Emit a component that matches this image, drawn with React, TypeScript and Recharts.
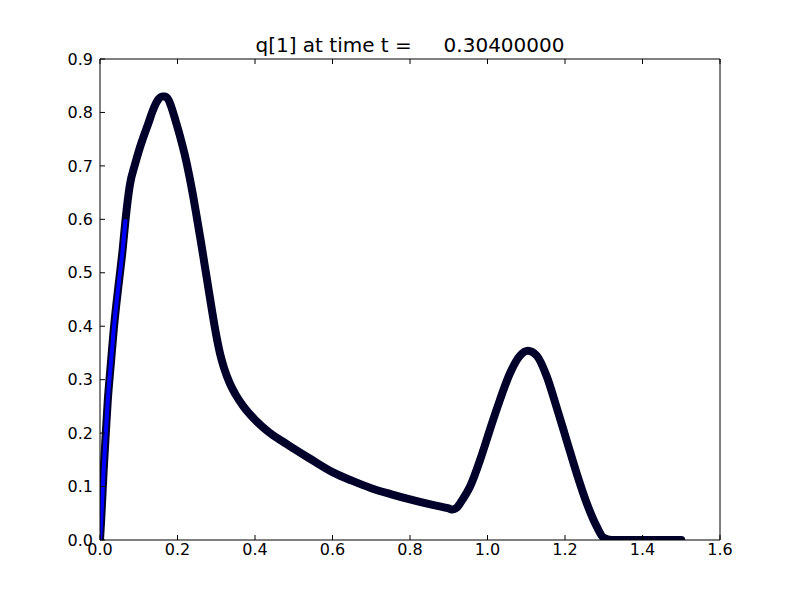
import React from 'react';
import { ComposedChart, Line, XAxis, YAxis } from 'recharts';

const xValues = [
  0.0, 0.003, 0.0095, 0.015, 0.02, 0.028, 0.035, 0.042, 0.05, 0.058, 0.066, 0.077,
  0.09, 0.102, 0.114, 0.125, 0.135, 0.145, 0.152, 0.16, 0.168, 0.178, 0.186, 0.194,
  0.206, 0.219, 0.23, 0.24, 0.25, 0.26, 0.27, 0.28, 0.29, 0.3, 0.31, 0.32, 0.335,
  0.35, 0.37, 0.4, 0.434, 0.47, 0.5, 0.54, 0.6, 0.65, 0.7, 0.75, 0.8, 0.85, 0.9,
  0.91, 0.92, 0.935, 0.955, 0.981, 1.006, 1.032, 1.058, 1.084, 1.104, 1.127, 1.153, 1.178,
  1.204, 1.23, 1.256, 1.282, 1.3, 1.32, 1.5,
];
const qValues = [
  0.0, 0.037, 0.131, 0.2, 0.26, 0.33, 0.39, 0.44, 0.49, 0.54, 0.6, 0.664,
  0.702, 0.732, 0.758, 0.78, 0.801, 0.818, 0.826, 0.83, 0.83, 0.822, 0.806, 0.787,
  0.757, 0.72, 0.683, 0.645, 0.603, 0.56, 0.515, 0.47, 0.425, 0.383, 0.348, 0.322, 0.293,
  0.272, 0.25, 0.225, 0.203, 0.185, 0.171, 0.153, 0.127, 0.111, 0.097, 0.086, 0.076, 0.067, 0.059,
  0.057, 0.06, 0.075, 0.1, 0.15, 0.206, 0.262, 0.312, 0.345, 0.354, 0.345, 0.306, 0.249,
  0.187, 0.125, 0.069, 0.025, 0.004, 0.0, 0.0,
];
const xTicks = [0, 0.2, 0.4, 0.6, 0.8, 1.0, 1.2, 1.4, 1.6];
const yTicks = [0, 0.1, 0.2, 0.3, 0.4, 0.5, 0.6, 0.7, 0.8, 0.9];
const titleText = 'q[1] at time t =     0.30400000';
const blueUntil = 0.066;

const data = xValues.map((x, i) => ({
  x,
  q: qValues[i],
  qStart: x <= blueUntil ? qValues[i] : null,
}));

const FONT = '"DejaVu Sans", sans-serif';
const fmt = (v: number) => v.toFixed(1);
const tickStyle = { fill: '#000', fontSize: 16, fontFamily: FONT };
const noLabel = () => <g />;

export default function App() {
  return (
    <div style={{ position: 'absolute', left: 0, top: 0, width: 800, height: 600, background: '#fff' }}>
      <ComposedChart width={800} height={600} data={data} margin={{ top: 0, right: 0, bottom: 0, left: 0 }}>
        <XAxis
          dataKey="x"
          type="number"
          domain={[0, 1.6]}
          ticks={xTicks}
          tickFormatter={fmt}
          allowDataOverflow
          height={60}
          stroke="#000"
          tickSize={-5}
          tickMargin={9}
          tick={tickStyle}
        />
        <XAxis
          xAxisId="top"
          orientation="top"
          dataKey="x"
          type="number"
          domain={[0, 1.6]}
          ticks={xTicks}
          height={59}
          stroke="#000"
          tickSize={-5}
          tick={noLabel}
        />
        <YAxis
          type="number"
          domain={[0, 0.9]}
          ticks={yTicks}
          tickFormatter={fmt}
          allowDataOverflow
          width={100}
          stroke="#000"
          tickSize={-5}
          tickMargin={12}
          tick={tickStyle}
        />
        <YAxis
          yAxisId="right"
          orientation="right"
          type="number"
          domain={[0, 0.9]}
          ticks={yTicks}
          width={80}
          stroke="#000"
          tickSize={-5}
          tick={noLabel}
        />
        <Line
          dataKey="q"
          type="monotone"
          stroke="#00002a"
          strokeWidth={8}
          strokeLinecap="round"
          strokeLinejoin="round"
          dot={false}
          activeDot={false}
          isAnimationActive={false}
        />
        <Line
          dataKey="qStart"
          type="monotone"
          stroke="#0000ff"
          strokeWidth={4}
          strokeLinecap="butt"
          dot={false}
          activeDot={false}
          connectNulls={false}
          isAnimationActive={false}
        />
      </ComposedChart>
      <div
        style={{
          position: 'absolute',
          left: 0,
          width: 820,
          top: 35,
          textAlign: 'center',
          fontFamily: FONT,
          fontSize: 20,
          lineHeight: '20px',
          whiteSpace: 'pre',
          color: '#000',
        }}
      >
        {titleText}
      </div>
    </div>
  );
}
